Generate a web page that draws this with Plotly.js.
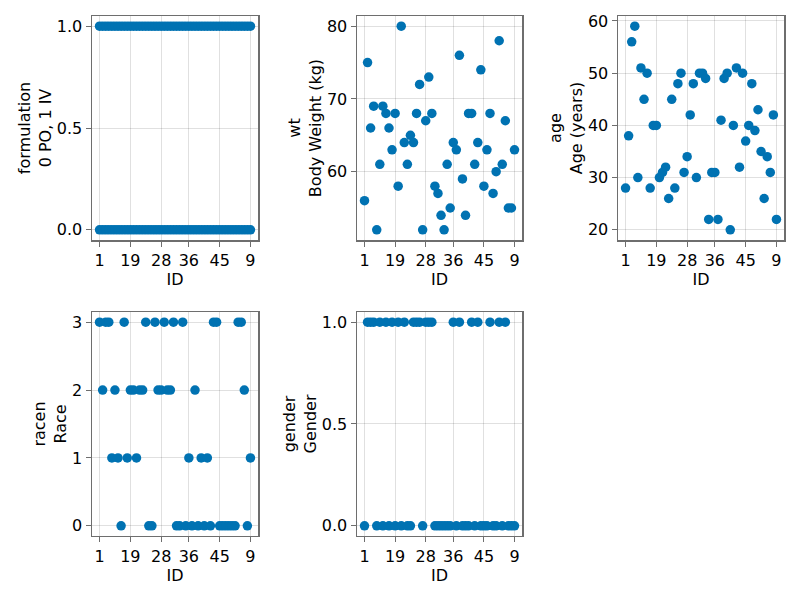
<!DOCTYPE html>
<html>
<head>
<meta charset="utf-8">
<script src="https://cdn.plot.ly/plotly-3.0.1.min.js"></script>
<style>html,body{margin:0;padding:0;background:#fff;}#chart{width:800px;height:600px;}</style>
</head>
<body>
<div id="chart"></div>
<script>
// Subject IDs (categorical, as ordered on the axis)
const ids = ["1","10","11","12","13","14","15","16","17","18","19","2","20","21","22","23","24","25","26","27","28","29","3","30","31","32","33","34","35","36","37","38","39","4","40","41","42","43","44","45","46","47","48","49","5","50","6","7","8","9"];
const idTicks = ["1","19","28","36","45","9"];

// formulation: every subject observed under both 0 (PO) and 1 (IV)
const formulationPO = [0,0,0,0,0,0,0,0,0,0,0,0,0,0,0,0,0,0,0,0,0,0,0,0,0,0,0,0,0,0,0,0,0,0,0,0,0,0,0,0,0,0,0,0,0,0,0,0,0,0];
const formulationIV = [1,1,1,1,1,1,1,1,1,1,1,1,1,1,1,1,1,1,1,1,1,1,1,1,1,1,1,1,1,1,1,1,1,1,1,1,1,1,1,1,1,1,1,1,1,1,1,1,1,1];

const wt = [56,75,66,69,52,61,69,68,66,63,68,58,80,64,61,65,64,68,72,52,67,73,68,58,57,54,52,61,55,64,63,76,59,54,68,68,61,64,74,58,63,68,57,60,78,61,67,55,55,63];
const age = [28,38,56,59,30,51,45,50,28,40,40,30,31,32,26,45,28,48,50,31,34,42,48,30,50,50,49,22,31,31,22,41,49,50,20,40,51,32,50,37,40,48,39,43,35,26,34,31,42,22];
const racen = [3,2,3,3,1,2,1,0,3,1,2,2,1,2,2,3,0,0,3,2,2,3,2,2,3,0,0,3,0,1,0,2,0,1,0,1,0,3,3,0,0,0,0,0,0,3,3,2,0,1];
const gender = [0,1,1,1,0,1,0,1,0,1,0,1,0,1,0,0,1,1,1,0,1,1,1,0,0,0,0,0,0,1,0,1,0,0,0,1,0,1,0,0,0,1,0,0,1,0,1,0,0,0];

const color = '#0072B2';
const marker = {color: color, size: 9.5, line: {width: 0}};
const font = {family: 'DejaVu Sans', size: 16, color: '#000'};

function pts(xa, ya, x, y) {
  return {type: 'scatter', mode: 'markers', x: x, y: y, xaxis: xa, yaxis: ya, marker: marker, hoverinfo: 'x+y', showlegend: false};
}

const data = [
  pts('x', 'y', ids.concat(ids), formulationPO.concat(formulationIV)),
  pts('x2', 'y2', ids, wt),
  pts('x3', 'y3', ids, age),
  pts('x4', 'y4', ids, racen),
  pts('x5', 'y5', ids, gender)
];

const frame = {
  showline: true, mirror: true, linecolor: '#6e6e6e', linewidth: 1.5,
  showgrid: true, gridcolor: 'rgba(0,0,0,0.12)', gridwidth: 1, zeroline: false,
  ticks: 'outside', ticklen: 5, tickwidth: 1, tickcolor: '#6e6e6e',
  tickfont: font
};

function xax(domain, anchor) {
  return Object.assign({}, frame, {
    domain: domain, anchor: anchor, type: 'category',
    categoryorder: 'array', categoryarray: ids,
    range: [-2.45, 51.45], tickvals: idTicks, ticktext: idTicks,
    title: {text: 'ID', font: font, standoff: 4}
  });
}
function yax(domain, anchor, range, tickvals, ticktext, title) {
  return Object.assign({}, frame, {
    domain: domain, anchor: anchor, range: range,
    tickmode: 'array', tickvals: tickvals, ticktext: ticktext,
    title: {text: title, font: font, standoff: 1}
  });
}

const c1 = [0.115, 0.3225], c2 = [0.44625, 0.6525], c3 = [0.7725, 0.98];
const r1 = [0.6, 0.9733], r2 = [0.1067, 0.48];

const layout = {
  width: 800, height: 600,
  margin: {l: 0, r: 0, t: 0, b: 0},
  paper_bgcolor: '#fff', plot_bgcolor: '#fff',
  font: font,
  showlegend: false,
  xaxis: xax(c1, 'y'),
  yaxis: yax(r1, 'x', [-0.05, 1.05], [0, 0.5, 1], ['0.0','0.5','1.0'], 'formulation<br>0 PO, 1 IV'),
  xaxis2: xax(c2, 'y2'),
  yaxis2: yax(r1, 'x2', [50.6, 81.4], [60, 70, 80], ['60','70','80'], 'wt<br>Body Weight (kg)'),
  xaxis3: xax(c3, 'y3'),
  yaxis3: yax(r1, 'x3', [18.05, 60.95], [20, 30, 40, 50, 60], ['20','30','40','50','60'], 'age<br>Age (years)'),
  xaxis4: xax(c1, 'y4'),
  yaxis4: yax(r2, 'x4', [-0.15, 3.15], [0, 1, 2, 3], ['0','1','2','3'], 'racen<br>Race'),
  xaxis5: xax(c2, 'y5'),
  yaxis5: yax(r2, 'x5', [-0.05, 1.05], [0, 0.5, 1], ['0.0','0.5','1.0'], 'gender<br>Gender')
};

Plotly.newPlot('chart', data, layout, {staticPlot: true, displayModeBar: false});
</script>
</body>
</html>
